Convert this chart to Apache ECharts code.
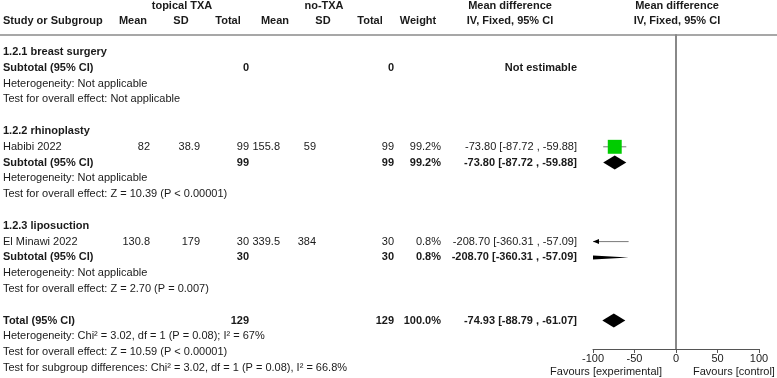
<!DOCTYPE html>
<html>
<head>
<meta charset="utf-8">
<script src="https://cdn.jsdelivr.net/npm/echarts@6/dist/echarts.min.js"></script>
<style>
html, body { margin: 0; padding: 0; background: #fff; }
#main { width: 777px; height: 378px; }
</style>
</head>
<body>
<div id="main"></div>
<script>
// row texts of the left-hand table (index = row number)
const rowLabels = [
  '1.2.1 breast surgery',
  'Subtotal (95% CI)',
  'Heterogeneity: Not applicable',
  'Test for overall effect: Not applicable',
  '',
  '1.2.2 rhinoplasty',
  'Habibi 2022',
  'Subtotal (95% CI)',
  'Heterogeneity: Not applicable',
  'Test for overall effect: Z = 10.39 (P < 0.00001)',
  '',
  '1.2.3 liposuction',
  'El Minawi 2022',
  'Subtotal (95% CI)',
  'Heterogeneity: Not applicable',
  'Test for overall effect: Z = 2.70 (P = 0.007)',
  '',
  'Total (95% CI)',
  'Heterogeneity: Chi\u00b2 = 3.02, df = 1 (P = 0.08); I\u00b2 = 67%',
  'Test for overall effect: Z = 10.59 (P < 0.00001)',
  'Test for subgroup differences: Chi\u00b2 = 3.02, df = 1 (P = 0.08), I\u00b2 = 66.8%'
];
const boldRows = [0, 1, 5, 7, 11, 13, 17];

// single studies
const studyRows = [6, 12];
const txaMean = [82, 130.8];
const txaSD = [38.9, 179];
const txaN = [99, 30];
const ctrlMean = [155.8, 339.5];
const ctrlSD = [59, 384];
const ctrlN = [99, 30];
const studyWeight = [99.2, 0.8];
const studyMD = [-73.80, -208.70];
const studyLo = [-87.72, -360.31];
const studyHi = [-59.88, -57.09];

// subtotals and total
const pooledRows = [1, 7, 13, 17];
const pooledTxaN = [0, 99, 30, 129];
const pooledCtrlN = [0, 99, 30, 129];
const pooledWeight = [null, 99.2, 0.8, 100.0];
const pooledMD = [null, -73.80, -208.70, -74.93];
const pooledLo = [null, -87.72, -360.31, -88.79];
const pooledHi = [null, -59.88, -57.09, -61.07];

// forest axis
const axisTicks = [-100, -50, 0, 50, 100];
const xMin = -100, xMax = 100;

// layout
const FONT = "'Liberation Sans', Arial, sans-serif";
const rowH = 15.8, firstY = 52, plotTop = 35, axisY = 349;
const yMin = -(firstY - plotTop) / rowH;
const yMax = (axisY - firstY) / rowH;
const colRight = [150, 200, 249, 280, 316, 394, 441, 577];

function ciText(md, lo, hi) {
  return md.toFixed(2) + ' [' + lo.toFixed(2) + ' , ' + hi.toFixed(2) + ']';
}

// build cell strings per row
const cells = rowLabels.map(() => ['', '', '', '', '', '', '', '']);
studyRows.forEach((r, i) => {
  cells[r] = [String(txaMean[i]), String(txaSD[i]), String(txaN[i]),
    String(ctrlMean[i]), String(ctrlSD[i]), String(ctrlN[i]),
    studyWeight[i].toFixed(1) + '%', ciText(studyMD[i], studyLo[i], studyHi[i])];
});
pooledRows.forEach((r, i) => {
  cells[r] = ['', '', String(pooledTxaN[i]), '', '', String(pooledCtrlN[i]),
    pooledWeight[i] == null ? '' : pooledWeight[i].toFixed(1) + '%',
    pooledMD[i] == null ? 'Not estimable' : ciText(pooledMD[i], pooledLo[i], pooledHi[i])];
});

function txt(x, y, text, align, bold) {
  return {
    type: 'text', x: x, y: y,
    style: {
      text: text, align: align, verticalAlign: 'middle',
      fontFamily: FONT, fontSize: 11, fontWeight: bold ? 'bold' : 'normal', fill: '#1a1a1a'
    }
  };
}

function renderTable(params, api) {
  const r = api.value(1);
  const y = api.coord([0, r])[1];
  const bold = boldRows.indexOf(r) >= 0;
  const children = [txt(3, y, rowLabels[r], 'left', bold)];
  cells[r].forEach((c, j) => {
    if (c) children.push(txt(colRight[j], y, c, 'right', bold));
  });
  return { type: 'group', children: children };
}

function renderStudy(params, api) {
  const md = api.value(0), r = api.value(1), lo = api.value(2), hi = api.value(3), w = api.value(4);
  const y = api.coord([0, r])[1];
  const xl = api.coord([Math.max(lo, xMin), r])[0];
  const xh = api.coord([Math.min(hi, xMax), r])[0];
  const children = [{
    type: 'line', shape: { x1: xl, y1: y, x2: xh, y2: y },
    style: { stroke: '#7a7a7a', lineWidth: 1 }
  }];
  if (lo < xMin) {
    children.push({ type: 'polygon', shape: { points: [[xl, y], [xl + 6, y - 2.5], [xl + 6, y + 2.5]] }, style: { fill: '#000' } });
  }
  if (md >= xMin && md <= xMax) {
    const s = 14 * Math.sqrt(w / 100);
    const xc = api.coord([md, r])[0];
    children.push({ type: 'rect', shape: { x: xc - s / 2, y: y - s / 2, width: s, height: s }, style: { fill: '#00cc00' } });
  }
  return { type: 'group', children: children };
}

function renderDiamond(params, api) {
  const md = api.value(0), r = api.value(1), lo = api.value(2), hi = api.value(3);
  const h = 7;
  const yc = api.coord([0, r])[1];
  const half = v => v <= md ? h * (v - lo) / (md - lo) : h * (hi - v) / (hi - md);
  const L = Math.max(lo, xMin), R = Math.min(hi, xMax);
  const top = [[L, half(L)]];
  if (md > L && md < R) top.push([md, h]);
  top.push([R, half(R)]);
  const pts = [];
  top.forEach(p => pts.push([api.coord([p[0], r])[0], yc - p[1]]));
  top.slice().reverse().forEach(p => pts.push([api.coord([p[0], r])[0], yc + p[1]]));
  return { type: 'polygon', shape: { points: pts }, style: { fill: '#000' } };
}

const chart = echarts.init(document.getElementById('main'));

const headerText = (x, y, text, align) => ({
  type: 'text', x: x, y: y,
  style: { text: text, align: align, verticalAlign: 'middle', fontFamily: FONT, fontSize: 11, fontWeight: 'bold', fill: '#1a1a1a' }
});

chart.setOption({
  animation: false,
  grid: { left: 593, right: 18, top: plotTop, bottom: 378 - axisY },
  xAxis: {
    type: 'value', min: xMin, max: xMax, interval: 50,
    axisLine: { onZero: false, lineStyle: { color: '#555', width: 1 } },
    axisTick: { length: 4, lineStyle: { color: '#555' } },
    axisLabel: {
      margin: 4, fontFamily: FONT, fontSize: 11, color: '#1a1a1a',
      customValues: axisTicks
    },
    splitLine: { show: false }
  },
  yAxis: {
    type: 'value', inverse: true, min: yMin, max: yMax,
    axisLine: { show: true, onZero: true, lineStyle: { color: '#888', width: 2 } },
    axisTick: { show: false }, axisLabel: { show: false }, splitLine: { show: false }
  },
  graphic: [
    { type: 'line', shape: { x1: 0, y1: plotTop, x2: 777, y2: plotTop }, style: { stroke: '#8a8a8a', lineWidth: 1.5 } },
    headerText(182, 6, 'topical TXA', 'center'),
    headerText(324, 6, 'no-TXA', 'center'),
    headerText(510, 6, 'Mean difference', 'center'),
    headerText(677, 6, 'Mean difference', 'center'),
    headerText(3, 21, 'Study or Subgroup', 'left'),
    headerText(133, 21, 'Mean', 'center'),
    headerText(181, 21, 'SD', 'center'),
    headerText(228, 21, 'Total', 'center'),
    headerText(275, 21, 'Mean', 'center'),
    headerText(323, 21, 'SD', 'center'),
    headerText(370, 21, 'Total', 'center'),
    headerText(418, 21, 'Weight', 'center'),
    headerText(510, 21, 'IV, Fixed, 95% CI', 'center'),
    headerText(677, 21, 'IV, Fixed, 95% CI', 'center'),
    { type: 'text', x: 662, y: 372, style: { text: 'Favours [experimental]', align: 'right', verticalAlign: 'middle', fontFamily: FONT, fontSize: 11, fill: '#1a1a1a' } },
    { type: 'text', x: 693, y: 372, style: { text: 'Favours [control]', align: 'left', verticalAlign: 'middle', fontFamily: FONT, fontSize: 11, fill: '#1a1a1a' } }
  ],
  series: [
    {
      type: 'custom', clip: false, silent: true,
      renderItem: renderTable,
      data: rowLabels.map((t, i) => [0, i])
    },
    {
      type: 'custom', clip: false, silent: true,
      renderItem: renderStudy,
      data: studyRows.map((r, i) => [studyMD[i], r, studyLo[i], studyHi[i], studyWeight[i]])
    },
    {
      type: 'custom', clip: false, silent: true,
      renderItem: renderDiamond,
      data: pooledRows.map((r, i) => [pooledMD[i], r, pooledLo[i], pooledHi[i]])
        .filter(d => d[0] != null)
    }
  ]
});
</script>
</body>
</html>
